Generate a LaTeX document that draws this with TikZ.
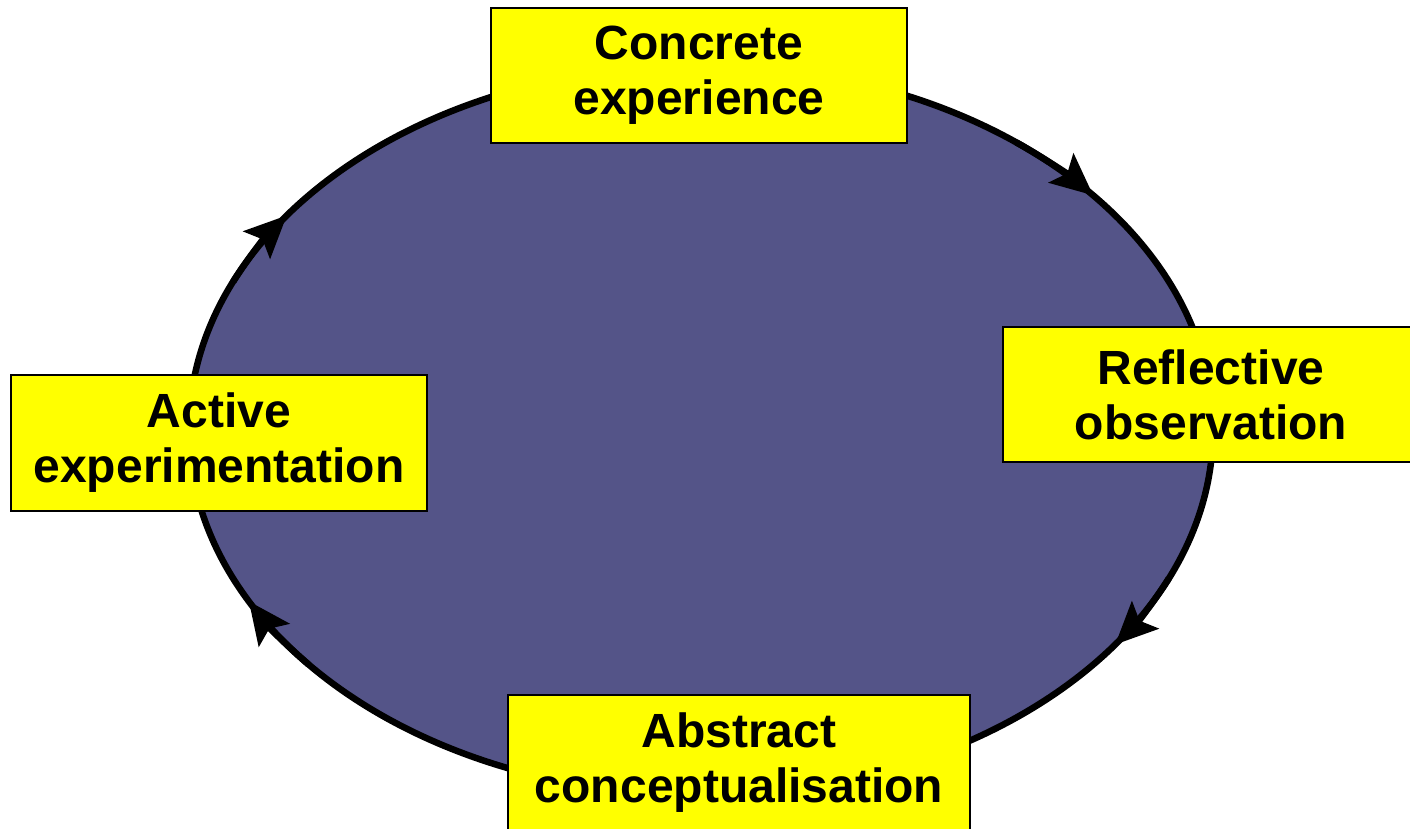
\documentclass[tikz,border=0pt]{standalone}
\usepackage{fontspec}
\setmainfont{Liberation Sans}
\usetikzlibrary{shapes.geometric,arrows.meta,calc}
\definecolor{cyclefill}{RGB}{84,84,136}
\definecolor{boxyellow}{RGB}{255,255,0}
\begin{document}
\begin{tikzpicture}[x=1pt,y=1pt,
  stagebox/.style={draw=black, line width=2pt, fill=boxyellow, minimum width=416pt, minimum height=135pt,
    align=center, inner sep=0pt, font=\bfseries\fontsize{48}{55}\selectfont},
  cyclearrow/.style={line width=6.5pt, -{Stealth[length=42pt,width=38pt,inset=8pt]}}]
\useasboundingbox (0,0) rectangle (1410,828);
\clip (0,0) rectangle (1410,828);
\node[ellipse, draw=black, line width=6.5pt, fill=cyclefill, minimum width=1024pt, minimum height=730pt, inner sep=0pt] (cycle) at (701,398) {};
\coordinate (c) at (cycle.center);
\draw[cyclearrow] ($(c)+(52:512 and 365)$) arc[start angle=52, end angle=40, x radius=512, y radius=365];
\draw[cyclearrow] ($(c)+(-24:512 and 365)$) arc[start angle=-24, end angle=-36, x radius=512, y radius=365];
\draw[cyclearrow] ($(c)+(-140:512 and 365)$) arc[start angle=-140, end angle=-152, x radius=512, y radius=365];
\draw[cyclearrow] ($(c)+(156:512 and 365)$) arc[start angle=156, end angle=144, x radius=512, y radius=365];
\node[stagebox] (concrete) at (699,752.5) {Concrete\\experience};
\node[stagebox] (reflective) at (1211,433) {Reflective\\observation};
\node[stagebox] (active) at (219,385) {Active\\experimentation};
\node[stagebox, minimum width=462pt] (abstract) at (739,65.5) {Abstract\\conceptualisation};
\end{tikzpicture}
\end{document}
